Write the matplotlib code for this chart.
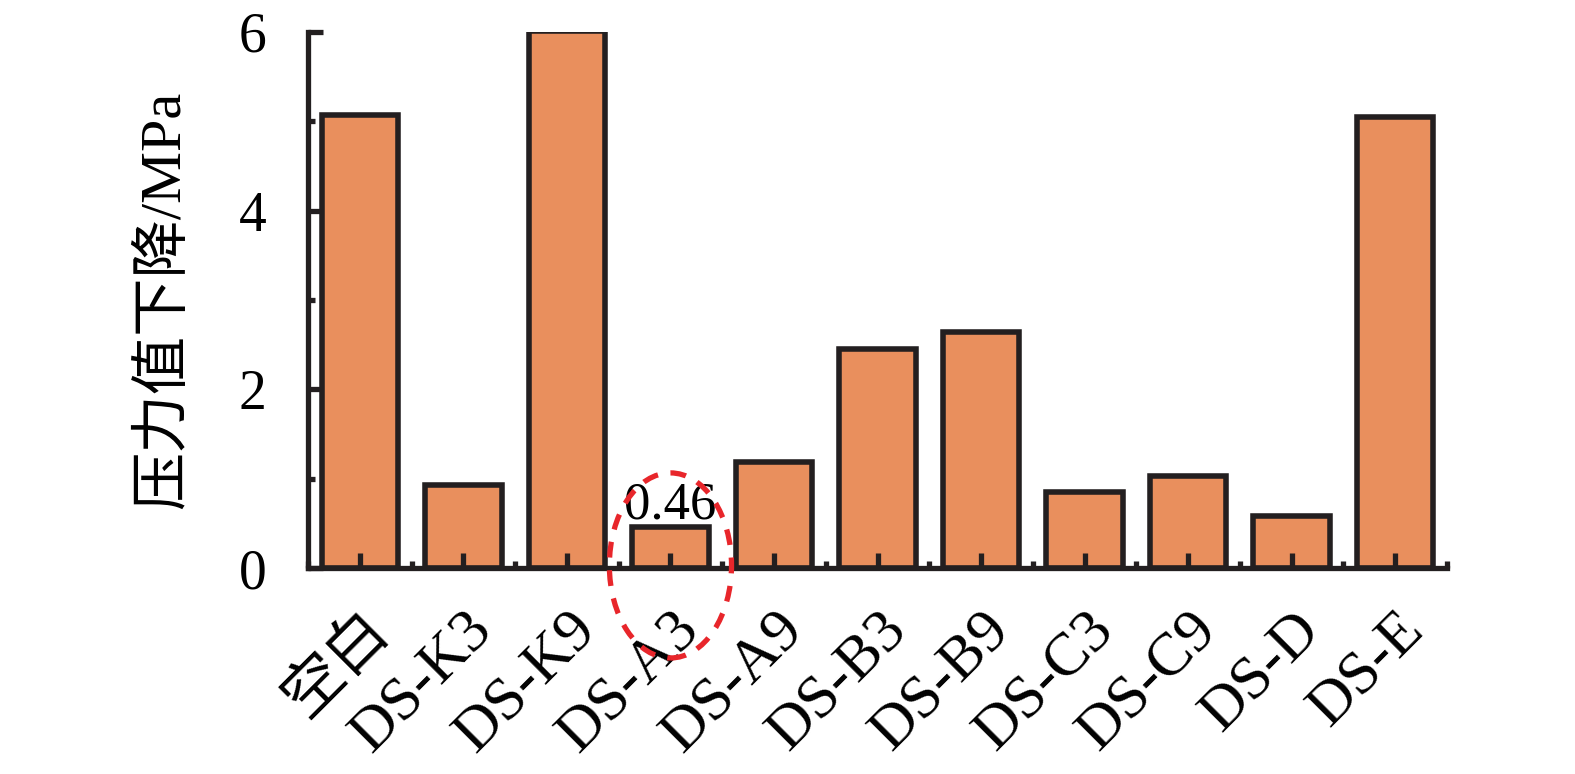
import matplotlib.pyplot as plt
from matplotlib.patches import Ellipse
from matplotlib.ticker import MultipleLocator

plt.rcParams['font.family'] = ['Liberation Serif', 'Noto Sans CJK SC']

categories = ['空白', 'DS-K3', 'DS-K9', 'DS-A3', 'DS-A9', 'DS-B3', 'DS-B9',
              'DS-C3', 'DS-C9', 'DS-D', 'DS-E']
drop = [5.07, 0.93, 6.01, 0.46, 1.19, 2.45, 2.64, 0.85, 1.03, 0.58, 5.05]

orange = '#E98F5D'
dark = '#231F20'
red = '#E8262B'

fig = plt.figure(figsize=(15.75, 7.74), dpi=100)
ax = fig.add_axes([0.1956, 0.266, 0.7231, 0.693])
ax.set_axisbelow(False)

x = list(range(len(categories)))
ax.bar(x, drop, width=0.74, color=orange, edgecolor=dark, linewidth=4.0, zorder=2)

ax.set_xlim(-0.5, 10.5)
ax.set_ylim(0, 6)

for s in ['top', 'right']:
    ax.spines[s].set_visible(False)
for s in ['left', 'bottom']:
    ax.spines[s].set_linewidth(3.8)
    ax.spines[s].set_color(dark)
    ax.spines[s].set_zorder(3)

ax.set_xticks(x)
ax.set_xticklabels(categories, rotation=45, ha='right', va='top',
                   rotation_mode='anchor')
ax.xaxis.set_minor_locator(MultipleLocator(1, offset=0.5))
ax.yaxis.set_major_locator(MultipleLocator(2))
ax.yaxis.set_minor_locator(MultipleLocator(1))

ax.tick_params(axis='both', which='major', direction='in', width=3.8,
               color=dark, labelsize=40, length=11)
ax.tick_params(axis='both', which='minor', direction='in', width=3.8,
               color=dark, length=5)
ax.tick_params(axis='y', which='major', pad=30)
ax.tick_params(axis='x', which='major', pad=24, labelsize=44)

ax.set_ylabel('压力值下降/MPa', fontsize=42, labelpad=34)

ax.text(3, 0.46 - 0.03, '0.46', ha='center', va='bottom', fontsize=38, zorder=5)
ax.add_patch(Ellipse((3, 0.03), 1.18, 2.07, fill=False, edgecolor=red,
                     linestyle=(0, (3, 2.4)), linewidth=3.8, clip_on=False,
                     zorder=6))

plt.savefig('out.png', dpi=100)
